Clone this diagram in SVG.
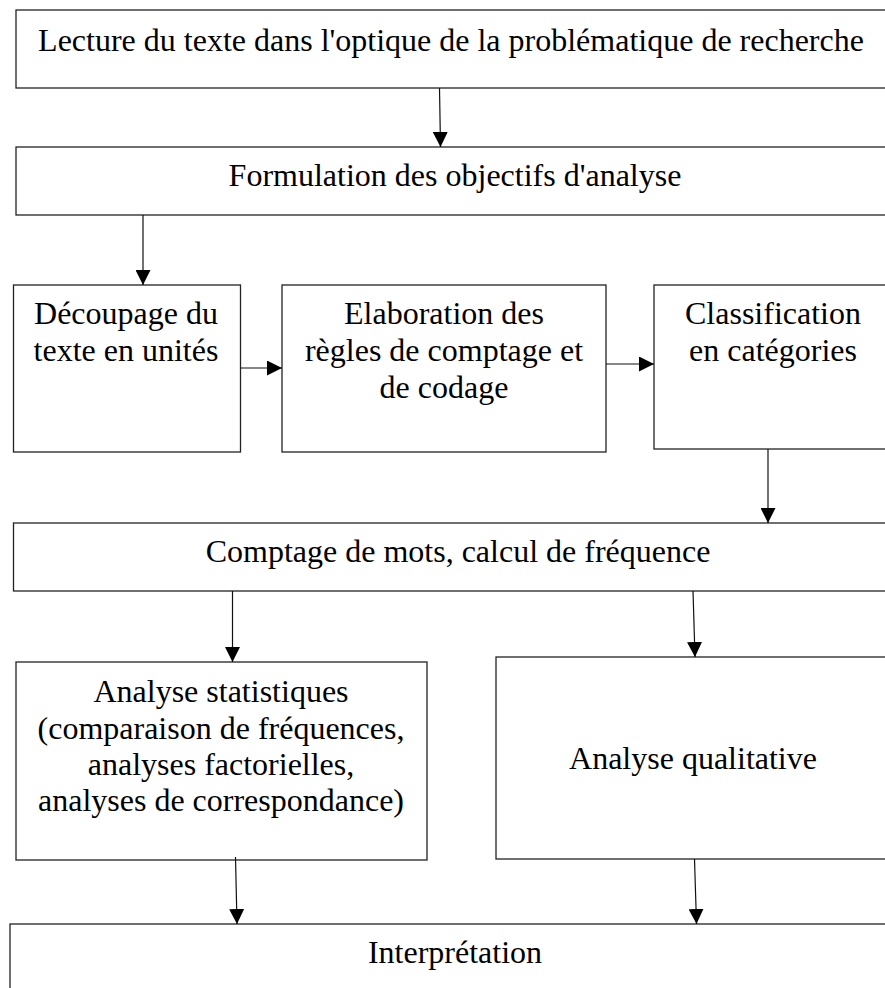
<svg xmlns="http://www.w3.org/2000/svg" width="885" height="988" viewBox="0 0 885 988">
<style>
.box{fill:#fff;stroke:#222;stroke-width:1.3}
.t{font-family:"Liberation Serif","Times New Roman",serif;font-size:32px;fill:#000;text-anchor:middle}
.c{stroke:#111;stroke-width:1.2;fill:none;marker-end:url(#ah)}
</style>
<defs>
<marker id="ah" markerUnits="userSpaceOnUse" markerWidth="15" markerHeight="15" refX="15" refY="7.5" orient="auto">
<path d="M0,0 L15,7.5 L0,15 z" fill="#000"/>
</marker>
</defs>
<rect width="885" height="988" fill="#fff"/>
<g id="n1"><rect class="box" x="16" y="10" width="890" height="78"/><text class="t" x="451" y="51">Lecture du texte dans l'optique de la problématique de recherche</text></g>
<g id="n2"><rect class="box" x="16" y="147" width="890" height="68"/><text class="t" x="455" y="186">Formulation des objectifs d'analyse</text></g>
<g id="n3"><rect class="box" x="13.5" y="285" width="227" height="167"/><text class="t" x="126" y="324">Découpage du</text><text class="t" x="126" y="360.5">texte en unités</text></g>
<g id="n4"><rect class="box" x="282" y="285" width="324" height="167"/><text class="t" x="444" y="324">Elaboration des</text><text class="t" x="444" y="361">règles de comptage et</text><text class="t" x="444" y="397.5">de codage</text></g>
<g id="n5"><rect class="box" x="654" y="285" width="250" height="164"/><text class="t" x="773" y="324">Classification</text><text class="t" x="773" y="361">en catégories</text></g>
<g id="n6"><rect class="box" x="13.5" y="523" width="890" height="68"/><text class="t" x="458" y="562">Comptage de mots, calcul de fréquence</text></g>
<g id="n7"><rect class="box" x="16" y="662" width="411" height="198"/><text class="t" x="221" y="701.5">Analyse statistiques</text><text class="t" x="221" y="738.5">(comparaison de fréquences,</text><text class="t" x="221" y="775">analyses factorielles,</text><text class="t" x="221" y="811">analyses de correspondance)</text></g>
<g id="n8"><rect class="box" x="496" y="657" width="410" height="202"/><text class="t" x="693" y="769">Analyse qualitative</text></g>
<g id="n9"><rect class="box" x="10" y="924" width="896" height="100"/><text class="t" x="455" y="963">Interprétation</text></g>
<g id="connectors">
<line class="c" x1="439.5" y1="88" x2="440.5" y2="147"/>
<line class="c" x1="143" y1="215" x2="143" y2="285"/>
<line class="c" x1="241" y1="368" x2="282" y2="368"/>
<line class="c" x1="606" y1="364" x2="654" y2="364"/>
<line class="c" x1="768" y1="449" x2="768" y2="523"/>
<line class="c" x1="232.5" y1="591" x2="232.5" y2="662"/>
<line class="c" x1="693" y1="591" x2="695" y2="657"/>
<line class="c" x1="235.5" y1="857" x2="237" y2="924"/>
<line class="c" x1="694.5" y1="859" x2="696.5" y2="924"/>
</g>
</svg>
